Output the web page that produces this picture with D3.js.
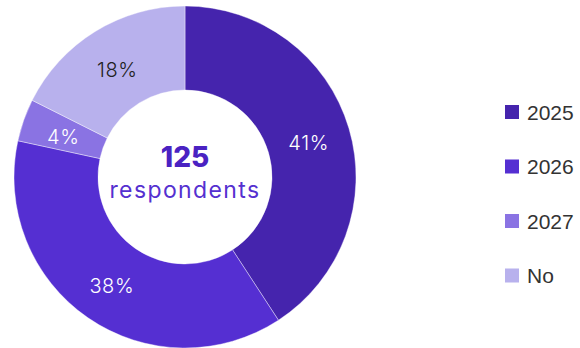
<!DOCTYPE html>
<html>
<head>
<meta charset="utf-8">
<script src="https://cdn.jsdelivr.net/npm/d3@7"></script>
<style>
  body { margin: 0; background: #fff; }
  svg { display: block; }
</style>
</head>
<body>
<article></article>
<script>
const m = { width: 580, height: 348 }

// respondents per answer (125 total)
const categories = ['2025', '2026', '2027', 'No']
const counts = [51, 47, 5, 22]
const colors = ['#4524ad', '#552fd2', '#8a73e3', '#b8b1ed']
const total = 125

const svg = d3.select('article').append('svg')
    .attr('width', m.width)
    .attr('height', m.height)

const g = svg.append('g')
    .attr('transform', 'translate(185,177)')

const pie = d3.pie().sort(null).value(d => d.count)
const arc = d3.arc().innerRadius(87).outerRadius(171)
const labelArc = d3.arc().innerRadius(129).outerRadius(129)

const data = categories.map((c, i) => ({ cat: c, count: counts[i], color: colors[i] }))
const arcs = pie(data)

g.selectAll('path')
    .data(arcs)
    .enter()
    .append('path')
    .attr('d', arc)
    .attr('fill', d => d.data.color)
    .attr('stroke', '#fff')
    .attr('stroke-width', 0.4)

g.selectAll('.lbl')
    .data(arcs)
    .enter()
    .append('text')
    .attr('class', 'lbl')
    .attr('transform', d => 'translate(' + labelArc.centroid(d) + ')')
    .attr('text-anchor', 'middle')
    .attr('dy', '0.5em')
    .attr('font-family', 'Inter, Lato, sans-serif')
    .attr('font-size', 20)
    .attr('font-weight', 300)
    .attr('letter-spacing', 0.6)
    .attr('fill', d => d.data.cat === 'No' ? '#222' : '#fff')
    .text(d => Math.round(d.data.count / total * 100) + '%')

// center text
g.append('text')
    .attr('text-anchor', 'middle')
    .attr('y', -10)
    .attr('font-family', 'Inter, Lato, sans-serif')
    .attr('font-size', 28)
    .attr('font-weight', 800)
    .attr('fill', '#4a22c2')
    .text(total)

g.append('text')
    .attr('text-anchor', 'middle')
    .attr('y', 21)
    .attr('font-family', 'Inter, Lato, sans-serif')
    .attr('font-size', 23)
    .attr('font-weight', 400)
    .attr('letter-spacing', 1.4)
    .attr('fill', '#5530d0')
    .text('respondents')

// legend
const legend = svg.append('g')
    .selectAll('g')
    .data(data)
    .enter()
    .append('g')
    .attr('transform', (d, i) => 'translate(505,' + (112 + i * 54.5) + ')')

legend.append('rect')
    .attr('x', 0)
    .attr('y', -7)
    .attr('width', 14)
    .attr('height', 14)
    .attr('fill', d => d.color)

legend.append('text')
    .attr('x', 22)
    .attr('dy', '0.36em')
    .attr('font-family', '"Liberation Sans", Arial, sans-serif')
    .attr('font-size', 21)
    .attr('fill', '#333')
    .text(d => d.cat)
</script>
</body>
</html>
